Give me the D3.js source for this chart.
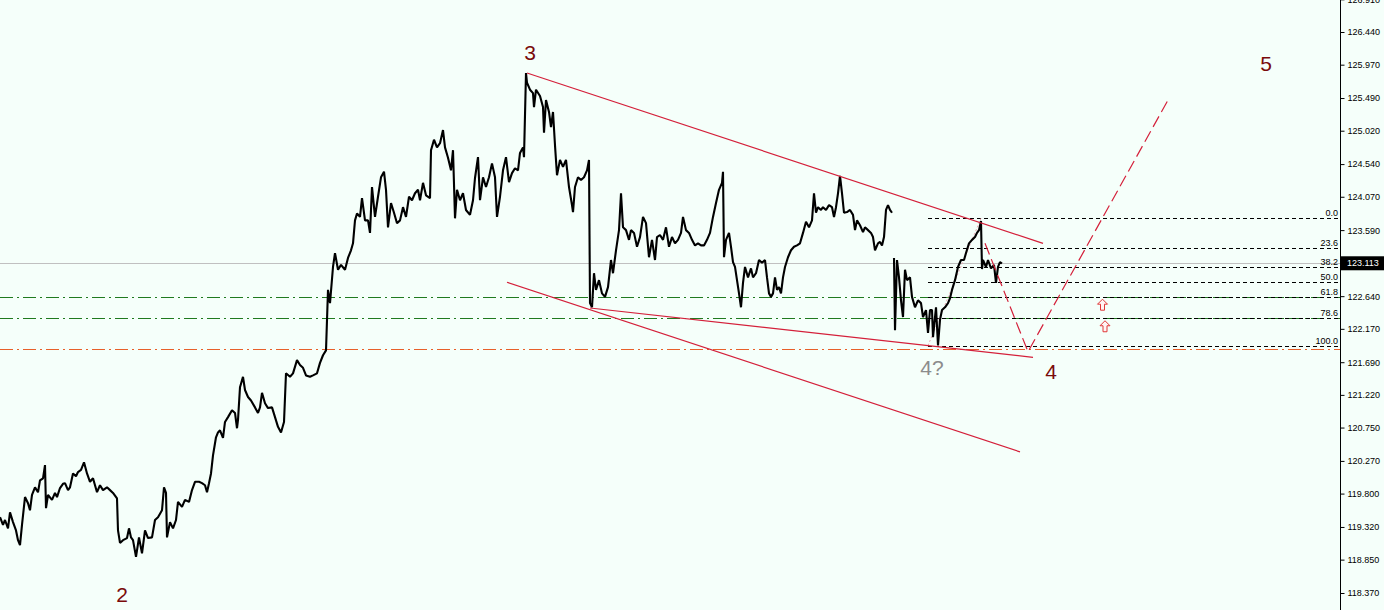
<!DOCTYPE html>
<html><head><meta charset="utf-8">
<script src="https://cdn.jsdelivr.net/npm/d3@7"></script>
<style>html,body{margin:0;padding:0;background:#f5fffa;overflow:hidden}svg{display:block}</style>
</head><body><svg id="c" width="1384" height="610"></svg>
<script>
// ---------- DATA ----------
// price series: [bar index, price]; null = gap in trading
const priceSeries = [[0,119.46],[1.5,119.35],[2.5,119.42],[4,119.30],[5,119.53],[6.5,119.39],[8,119.27],[9,119.13],[10,119.06],[11,119.35],[12.5,119.75],[14,119.66],[15,119.56],[16,119.78],[17.5,119.89],[19,119.82],[20,119.99],[21.5,120.02],[22.5,120.21],[23,119.59],[24,119.78],[26,119.71],[27.5,119.81],[28.5,119.75],[30,119.88],[31.5,119.94],[32.5,119.95],[34,119.85],[35,119.89],[36.5,120.09],[38,120.05],[39,120.11],[40.5,120.14],[42,120.25],[43.5,120.09],[45,119.97],[46.5,120.02],[48.5,119.82],[50,119.92],[51.5,119.85],[53.5,119.89],[55,119.85],[56.5,119.81],[58.5,119.73],[59,119.27],[60,119.09],[61.5,119.13],[63.5,119.16],[64.5,119.30],[65.5,119.17],[66.5,119.13],[68,118.89],[69.5,119.17],[71,118.94],[72.5,119.27],[74,119.16],[76,119.17],[77.5,119.42],[79,119.46],[81,119.56],[82,119.89],[83,119.81],[83.5,119.17],[85,119.39],[86.5,119.30],[88,119.42],[89,119.68],[91,119.61],[92.5,119.71],[94.5,119.68],[96,119.85],[97.5,119.97],[99.5,119.97],[101,119.95],[102.5,119.92],[103.5,119.82],[104.5,119.95],[105.5,120.09],[106.5,120.35],[108,120.61],[109,120.68],[110,120.71],[111.5,120.60],[112.5,120.83],[114,120.90],[116,121.00],[117.5,120.96],[118.5,120.74],[119,120.86],[120,121.33],[121.5,121.48],[122.5,121.29],[124,121.19],[125.5,121.14],[127.5,121.04],[129,120.96],[130,121.04],[131,121.25],[132.5,121.10],[134,121.03],[136,121.04],[137.5,120.90],[139,120.76],[140.5,120.68],[142,120.83],[143,121.53],[145,121.48],[146.5,121.53],[148.5,121.72],[150,121.65],[151.5,121.61],[153,121.50],[155,121.48],[156.5,121.50],[158.5,121.53],[160,121.68],[161.5,121.79],[163,121.86],[164,122.73],[165,122.54],[166.5,123.06],[167.5,123.26],[169,123.02],[170.5,123.09],[172.5,123.02],[174,123.19],[175.5,123.30],[176.5,123.40],[177.5,123.73],[178.5,123.83],[180,123.78],[181,124.05],[182.5,123.73],[184,123.73],[185,123.55],[186,124.21],[187.5,123.78],[189,124.07],[190.5,124.35],[192,124.43],[193,124.17],[194,123.63],[195.5,123.98],[197,123.84],[198.5,123.69],[200,123.73],[201.5,123.92],[203,123.78],[204.5,124.07],[206,124.02],[207.5,124.12],[209,124.17],[210,124.02],[211.5,124.27],[213,124.09],[215,124.05],[215.5,124.74],[217,124.89],[218.5,124.78],[220,124.84],[221.5,125.03],[222.5,124.78],[224,124.63],[225.5,124.45],[226.5,124.74],[227.5,123.76],[228.5,124.17],[230,124.02],[231.5,124.12],[233,123.88],[235,123.81],[236.5,124.02],[237.5,124.34],[239,124.64],[240,124.02],[241.5,124.35],[243,124.21],[244.5,124.35],[246,124.55],[247.5,124.35],[248.5,123.78],[250,124.07],[251.5,124.45],[253,124.64],[254.5,124.28],[256,124.41],[257.5,124.48],[259,124.45],[260,124.70],[261.5,124.78],[262,124.64],[263,125.85],[263.5,125.71],[265,125.61],[266.5,125.56],[267,125.36],[268,125.61],[270,125.52],[271.5,125.36],[272,124.99],[273,125.46],[274.5,125.29],[275.5,125.07],[276.5,125.29],[277.5,124.81],[278.5,124.38],[280,124.60],[281.5,124.50],[283,124.60],[284.5,124.21],[286,123.95],[286.5,123.85],[287.5,124.21],[289,124.35],[290.5,124.31],[292,124.35],[293.5,124.45],[294.5,124.60],[295,122.54],[296,122.48],[297,122.97],[298,122.73],[299.5,122.87],[301,122.68],[302.5,122.63],[304,122.77],[305.5,123.16],[306.5,122.97],[308,123.30],[309.5,123.59],[310.5,124.12],[311.5,123.63],[313,123.59],[314.5,123.45],[315.5,123.59],[317,123.55],[318.5,123.35],[320,123.49],[321.5,123.78],[323,123.69],[324.5,123.20],[326,123.45],[327.5,123.16],[328.5,123.49],[330,123.52],[331.5,123.45],[333,123.63],[334.5,123.35],[336,123.49],[337.5,123.40],[339,123.45],[340.5,123.55],[341.5,123.78],[343,123.59],[344.5,123.55],[346,123.45],[347.5,123.37],[349,123.40],[350.5,123.37],[352,123.37],[353.5,123.45],[355,123.55],[356.5,123.78],[358,123.98],[359.5,124.17],[361,124.27],[361.5,124.43],[362,123.20],[363,123.45],[364.5,123.55],[365.5,123.35],[366.5,123.13],[367.5,123.06],[368.5,122.87],[369.5,122.68],[370.5,122.48],[371.5,122.83],[372.5,123.06],[374,122.91],[375.5,123.04],[376.5,122.91],[378,122.97],[379.5,123.16],[381,123.12],[382.5,123.16],[383.5,122.91],[384.5,122.68],[385.5,122.63],[386.5,122.68],[387.5,122.91],[388.5,122.73],[389.5,122.77],[390.5,122.68],[391.5,122.91],[392.5,123.06],[394,123.20],[395.5,123.30],[397,123.35],[398.5,123.37],[400,123.40],[401.5,123.55],[403,123.71],[404.5,123.63],[406,123.73],[407,124.12],[408,123.84],[409,123.92],[410.5,123.88],[411.5,123.92],[413,123.88],[414.5,123.95],[416,123.92],[417,123.78],[418,123.92],[419,124.12],[420,124.37],[421,124.12],[422,123.84],[423.5,123.85],[425,123.88],[426.5,123.81],[427.5,123.59],[428.5,123.73],[430,123.66],[431.5,123.56],[432.5,123.63],[434,123.59],[435.5,123.55],[436.5,123.49],[437.5,123.30],[439,123.40],[440,123.42],[441,123.37],[442,123.49],[443,123.88],[444,123.95],[445,123.88],[446,123.84],[446.5,null],[447,123.19],[447.5,122.15],[448.5,123.16],[449.5,122.91],[450.5,122.58],[451.5,122.34],[452.5,123.02],[453.5,122.87],[455,122.91],[456,122.63],[457.5,122.48],[459,122.58],[460.5,122.54],[461.5,122.34],[463,122.44],[464,122.11],[465,122.44],[466,122.44],[466.5,122.05],[468,122.48],[469,121.93],[470,122.30],[471,122.44],[472.5,122.48],[474,122.54],[475,122.61],[476,122.73],[477.5,122.87],[479,123.06],[480.5,123.16],[482,123.16],[483,123.26],[484.5,123.40],[486,123.45],[487.5,123.49],[488.5,123.55],[489.5,123.59],[490.5,123.72],[491,123.03],[491.5,123.16],[493,123.06],[494,123.16],[495.5,123.04],[497,123.09],[498,122.83],[499,123.06],[500,123.13],[501,123.11]];

const axisTicks = [126.910,126.440,125.970,125.490,125.020,124.540,124.070,123.590,122.640,122.170,121.690,121.220,120.750,120.270,119.800,119.320,118.850,118.370];
const currentPrice = 123.113;

// Fibonacci retracement
const fibLevels = [0.0, 23.6, 38.2, 50.0, 61.8, 78.6, 100.0];
const fibHigh = 123.76, fibLow = 121.93;
const fibStartBar = 464, fibHighBar = 490.5;
// levels extended across the whole chart (green) and the orange support
const greenLevels = [61.8, 78.6];
const supportPrice = 121.88;

// trend lines: [bar1, price1, bar2, price2]
const trendLines = [
  [263.5, 125.85, 521.5, 123.40],
  [253.5, 122.84, 510, 120.40],
  [295, 122.47, 516.5, 121.76]
];
// projected path (dashed)
const projectionBars = [492.5, 514, 584];
const projectionPrices = [123.40, 121.84, 125.46];

// wave labels
const waveText = ["2", "3", "4?", "4", "5"];
const waveBars = [61, 265, 466, 525.5, 633];
const wavePrices = [118.35, 126.15, 121.62, 121.55, 125.99];

// arrows
const arrowBars = [551.25, 552.5];
const arrowPrices = [122.51, 122.20];

// ---------- CHART ----------
const W = 1384, H = 610, axisX = 1340;
const svg = d3.select("#c");
svg.append("rect").attr("width", W).attr("height", H).attr("fill", "#f5fffa");

const x = d3.scaleLinear().domain([0, 670]).range([0, axisX]);
const y = d3.scaleLinear().domain([118.37, 126.44]).range([593, 32]);
const fibPrice = l => fibHigh - (fibHigh - fibLow) * l / 100;
const py = p => Math.round(y(p)) + 0.5;

// current price line
svg.append("line").attr("x1", 0).attr("x2", axisX)
  .attr("y1", py(currentPrice)).attr("y2", py(currentPrice))
  .attr("stroke", "#c0c0c0").attr("stroke-width", 1);

// green dash-dot lines
svg.selectAll(".gl").data(greenLevels).join("line")
  .attr("x1", 0).attr("x2", axisX)
  .attr("y1", d => py(fibPrice(d))).attr("y2", d => py(fibPrice(d)))
  .attr("stroke", "#1f7a1f").attr("stroke-width", 1).attr("stroke-dasharray", "13,4,2,4");

// orange dash-dot support
svg.append("line").attr("x1", 0).attr("x2", axisX)
  .attr("y1", py(supportPrice)).attr("y2", py(supportPrice))
  .attr("stroke", "#e8602a").attr("stroke-width", 1).attr("stroke-dasharray", "13,4,2,4");

// fib levels
svg.selectAll(".fl").data(fibLevels).join("line")
  .attr("x1", x(fibStartBar)).attr("x2", axisX - 2)
  .attr("y1", d => py(fibPrice(d))).attr("y2", d => py(fibPrice(d)))
  .attr("stroke", "#000").attr("stroke-width", 1).attr("stroke-dasharray", "4,3");
svg.selectAll(".ft").data(fibLevels).join("text")
  .attr("x", axisX - 2).attr("y", d => Math.round(y(fibPrice(d))) - 2)
  .attr("text-anchor", "end").attr("font-family", "Liberation Sans, Arial, sans-serif")
  .attr("font-size", 9).attr("fill", "#000").text(d => d.toFixed(1));
// fib diagonal
svg.append("line").attr("x1", x(fibStartBar)).attr("y1", y(fibLow))
  .attr("x2", x(fibHighBar)).attr("y2", y(fibHigh))
  .attr("stroke", "#e8a8b0").attr("stroke-width", 1).attr("stroke-dasharray", "2,2");

// price line
const line = d3.line().defined(d => d[1] != null).x(d => x(d[0])).y(d => y(d[1]));
svg.append("path").datum(priceSeries).attr("d", line)
  .attr("fill", "none").attr("stroke", "#000").attr("stroke-width", 2.1)
  .attr("stroke-linejoin", "bevel");

// trend lines
svg.selectAll(".tl").data(trendLines).join("line")
  .attr("x1", d => x(d[0])).attr("y1", d => y(d[1]))
  .attr("x2", d => x(d[2])).attr("y2", d => y(d[3]))
  .attr("stroke", "#d4203a").attr("stroke-width", 1.2);

// projection
const proj = projectionBars.map((b, i) => [b, projectionPrices[i]]);
svg.append("path").datum(proj).attr("d", d3.line().x(d => x(d[0])).y(d => y(d[1])))
  .attr("fill", "none").attr("stroke", "#d4203a").attr("stroke-width", 1.2)
  .attr("stroke-dasharray", "12,5");

// arrows
svg.selectAll(".ar").data(arrowBars).join("path")
  .attr("transform", (d, i) => `translate(${x(d)},${y(arrowPrices[i])})`)
  .attr("d", "M0,-6 L5,-1 L2,-1 L2,5 L-2,5 L-2,-1 L-5,-1 Z")
  .attr("fill", "#fff4f4").attr("stroke", "#e03838").attr("stroke-width", 1);

// wave labels
svg.selectAll(".wl").data(waveText).join("text")
  .attr("x", (d, i) => x(waveBars[i])).attr("y", (d, i) => y(wavePrices[i]))
  .attr("dy", "0.36em").attr("text-anchor", "middle")
  .attr("font-family", "Liberation Sans, Arial, sans-serif").attr("font-size", 21)
  .attr("fill", d => d === "4?" ? "#8c8c8c" : "#7a0a0a").text(d => d);

// axis
const axis = d3.axisRight(y).tickValues(axisTicks).tickSize(4).tickSizeOuter(0).tickPadding(3)
  .tickFormat(d3.format(".3f"));
const ag = svg.append("g").attr("transform", `translate(${axisX + 0.5},0)`).call(axis);
ag.select(".domain").remove();
ag.selectAll("text").attr("font-family", "Liberation Sans, Arial, sans-serif").attr("font-size", 9).attr("fill", "#000");
ag.selectAll("line").attr("stroke", "#000");
svg.append("line").attr("x1", axisX + 0.5).attr("x2", axisX + 0.5).attr("y1", 0).attr("y2", H)
  .attr("stroke", "#000").attr("stroke-width", 1);

// current price label
const cy = y(currentPrice);
svg.append("rect").attr("x", axisX + 1).attr("y", cy - 7).attr("width", W - axisX - 1).attr("height", 14).attr("fill", "#000");
svg.append("text").attr("x", axisX + 7).attr("y", cy).attr("dy", "0.35em")
  .attr("font-family", "Liberation Sans, Arial, sans-serif").attr("font-size", 9)
  .attr("fill", "#fff").text(currentPrice.toFixed(3));
</script></body></html>
